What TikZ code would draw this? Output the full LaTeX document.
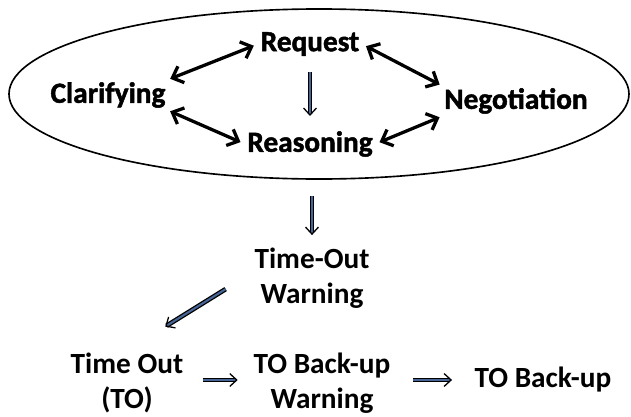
\documentclass[tikz,border=0pt]{standalone}
\usepackage{fontspec}
\setmainfont{Carlito}
\newfontfamily\heavyfont{Carlito}[FakeBold=1.6]
\usepackage{tikz}
\usetikzlibrary{arrows.meta, shapes.geometric}
\definecolor{flowblue}{RGB}{70,100,150}

\begin{document}
\begin{tikzpicture}[x=0.03cm, y=-0.03cm,
    word/.style={font=\fontsize{25}{30}\selectfont\bfseries, align=center, inner sep=2pt},
    heavy/.style={word, font=\fontsize{25}{30}\selectfont\heavyfont\bfseries},
    both/.style={{Straight Barb[length=8pt,width=15pt]}-{Straight Barb[length=8pt,width=15pt]}, line width=2.8pt},
    flow/.style={-{Straight Barb[length=6pt,width=11pt]}, draw=black, double=flowblue, double distance=1.8pt, line width=1.1pt}]
    \useasboundingbox (0,0) rectangle (631,417);
    \node[ellipse, draw, line width=1.4pt, minimum width=18.6cm, minimum height=5.1cm] (cycle) at (319,94) {}; %楕円
    \node[heavy] (request) at (310,44) {Request};
    \node[heavy] (clarify) at (108,95) {Clarifying};
    \node[heavy] (negotiation) at (516,101) {Negotiation};
    \node[heavy] (reasoning) at (310,144) {Reasoning};
    \draw[both, shorten <=2pt, shorten >=4pt] (clarify.north east) -- (request.west); %左上
    \draw[both, shorten <=4pt, shorten >=2pt] (request.east) -- (negotiation.north west); %右上
    \draw[both, shorten <=2pt, shorten >=4pt] (clarify.south east) -- (reasoning.west); %左下
    \draw[both, shorten <=4pt, shorten >=2pt] (reasoning.east) -- (negotiation.south west); %右下
    \draw[flow, shorten <=0.42cm, shorten >=0.38cm] (request.south) -- (reasoning.north); %中央
    \node[word] (warning) at (312,278) {Time-Out\\Warning};
    \node[word] (timeout) at (127,383) {Time Out\\(TO)};
    \node[word] (bwarning) at (322,383) {TO Back-up\\Warning};
    \node[word] (backup) at (543,380) {TO Back-up};
    \draw[flow, shorten <=0.5cm, shorten >=0.3cm] (cycle.south -| warning.north) -- (warning.north); %下へ
    \draw[flow, shorten <=0.93cm, shorten >=1.35cm] (warning.175) -- (timeout.north);
    \draw[flow, shorten <=0.5cm, shorten >=0.4cm] (timeout.east |- backup) -- (bwarning.west |- backup);
    \draw[flow, shorten <=0.6cm, shorten >=0.6cm] (bwarning.east |- backup) -- (backup.west);
\end{tikzpicture}
\end{document}
